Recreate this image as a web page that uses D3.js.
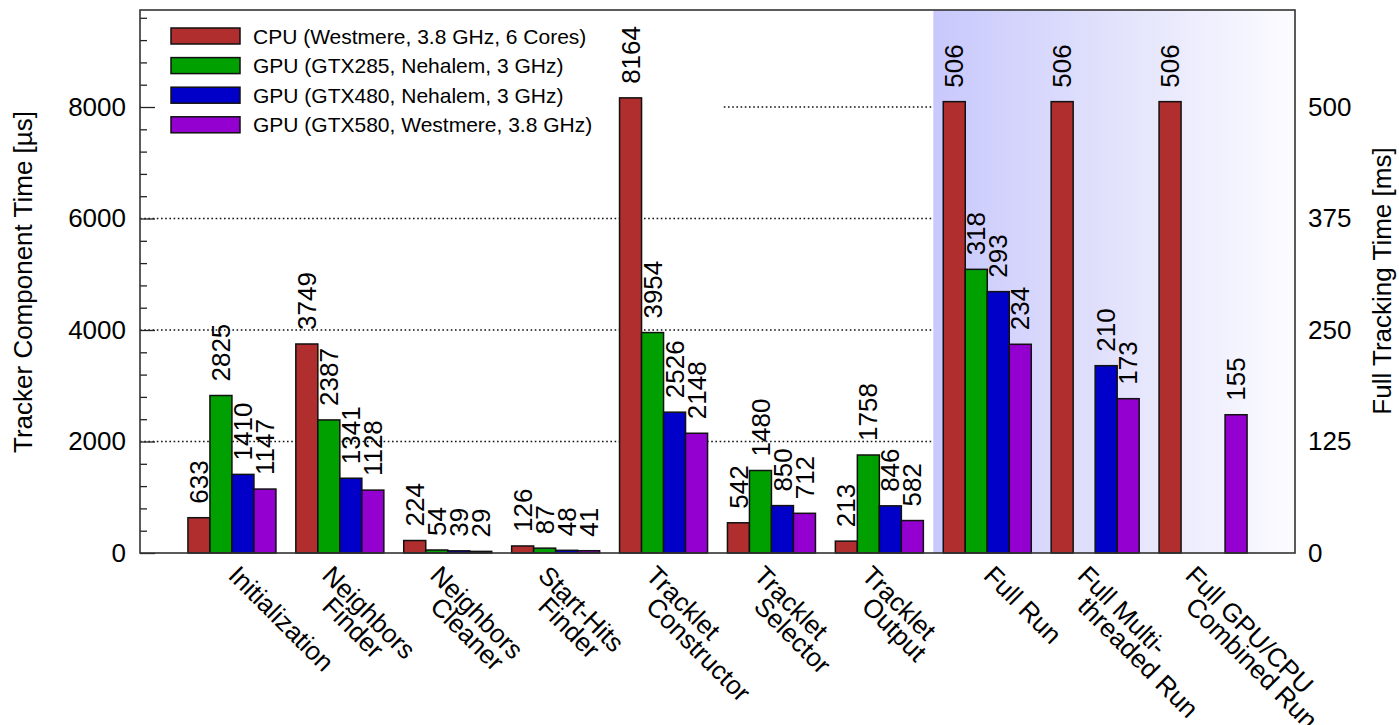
<!DOCTYPE html>
<html>
<head>
<meta charset="utf-8">
<script src="https://cdn.jsdelivr.net/npm/d3@7"></script>
<style>
  html, body { margin: 0; padding: 0; background: #fff; }
  svg { display: block; font-family: "Liberation Sans", Arial, Helvetica, sans-serif; }
</style>
</head>
<body>
<svg id="chart" width="1399" height="725"></svg>
<script>
// Category labels (one entry per line of the label)
const categoryLabels = [
  ["Initialization"],
  ["Neighbors", "Finder"],
  ["Neighbors", "Cleaner"],
  ["Start-Hits", "Finder"],
  ["Tracklet", "Constructor"],
  ["Tracklet", "Selector"],
  ["Tracklet", "Output"],
  ["Full Run"],
  ["Full Multi-", "threaded Run"],
  ["Full GPU/CPU", "Combined Run"]
];

const seriesNames = [
  "CPU (Westmere, 3.8 GHz, 6 Cores)",
  "GPU (GTX285, Nehalem, 3 GHz)",
  "GPU (GTX480, Nehalem, 3 GHz)",
  "GPU (GTX580, Westmere, 3.8 GHz)"
];

// Tracker component times [µs], first seven categories
const cpuComponent    = [633, 3749, 224, 126, 8164, 542, 213];
const gtx285Component = [2825, 2387, 54, 87, 3954, 1480, 1758];
const gtx480Component = [1410, 1341, 39, 48, 2526, 850, 846];
const gtx580Component = [1147, 1128, 29, 41, 2148, 712, 582];

// Full tracking times [ms], last three categories (null = not measured)
const cpuFull    = [506, 506, 506];
const gtx285Full = [318, null, null];
const gtx480Full = [293, 210, null];
const gtx580Full = [234, 173, 155];

// Axis ticks
const leftTicks  = [0, 2000, 4000, 6000, 8000];
const rightTicks = [0, 125, 250, 375, 500];
const gridValues = [2000, 4000, 6000, 8000];

const seriesColors = ["#b02e2e", "#00a000", "#0000c8", "#9400d0"];

const componentSeries = [cpuComponent, gtx285Component, gtx480Component, gtx580Component];
const fullSeries = [cpuFull, gtx285Full, gtx480Full, gtx580Full];
const nComponent = cpuComponent.length;

const svg = d3.select("#chart");
const plotL = 140, plotR = 1295, plotT = 10, plotB = 553;
const fontFam = '"Liberation Sans", Arial, Helvetica, sans-serif';

const yMax = 9740;
const y = d3.scaleLinear().domain([0, yMax]).range([plotB, plotT]);
// 1 ms on the right axis corresponds to 16 µs on the left axis
const y2 = d3.scaleLinear().domain([0, yMax / 16]).range([plotB, plotT]);

const x = d3.scaleBand().domain(d3.range(categoryLabels.length))
  .range([plotL, plotR]).paddingInner(0).paddingOuter(0.352);
const bw = x.bandwidth();
const groupW = bw * 0.8156;
const xs = d3.scaleBand().domain(d3.range(4))
  .range([(bw - groupW) / 2, (bw + groupW) / 2]);

// Flatten into drawable records
const bars = [];
categoryLabels.forEach((_, i) => {
  for (let s = 0; s < 4; s++) {
    const isFull = i >= nComponent;
    const v = isFull ? fullSeries[s][i - nComponent] : componentSeries[s][i];
    if (v == null) continue;
    bars.push({ i, s, v, scale: isFull ? y2 : y });
  }
});

// Gradient for the full-run panel
const defs = svg.append("defs");
const grad = defs.append("linearGradient").attr("id", "fullShade")
  .attr("x1", "0%").attr("x2", "100%").attr("y1", "0%").attr("y2", "0%");
grad.append("stop").attr("offset", "0%").attr("stop-color", "#c8c8fd");
grad.append("stop").attr("offset", "50%").attr("stop-color", "#e2e2fc");
grad.append("stop").attr("offset", "100%").attr("stop-color", "#fcfcff");

const shadeX = x(nComponent);

// Dotted grid lines
svg.append("g").selectAll("line").data(gridValues).join("line")
  .attr("x1", plotL).attr("x2", shadeX)
  .attr("y1", d => y(d)).attr("y2", d => y(d))
  .attr("stroke", "#111").attr("stroke-width", 1.3)
  .attr("stroke-dasharray", "1.6,2.6");

// Shaded panel for full tracking times
svg.append("rect").attr("x", shadeX).attr("y", plotT)
  .attr("width", plotR - shadeX).attr("height", plotB - plotT)
  .attr("fill", "url(#fullShade)");

// Legend background
svg.append("rect").attr("x", plotL + 1).attr("y", plotT + 1)
  .attr("width", 582).attr("height", 140).attr("fill", "#fff");

// Bars
svg.append("g").selectAll("rect").data(bars).join("rect")
  .attr("x", d => x(d.i) + xs(d.s))
  .attr("width", xs.bandwidth())
  .attr("y", d => d.scale(d.v))
  .attr("height", d => plotB - d.scale(d.v))
  .attr("fill", d => seriesColors[d.s])
  .attr("stroke", "#111").attr("stroke-width", 1.5);

// Value labels above bars
svg.append("g").selectAll("text").data(bars).join("text")
  .attr("transform", d => `translate(${x(d.i) + xs(d.s) + xs.bandwidth() / 2},${d.scale(d.v) - 14}) rotate(-90)`)
  .attr("dy", "0.35em")
  .attr("text-anchor", "start")
  .attr("font-size", 26).attr("font-family", fontFam).attr("fill", "#000")
  .text(d => d.v);

// Left axis: labels
const axL = svg.append("g").attr("transform", `translate(${plotL},0)`)
  .call(d3.axisLeft(y).tickValues(leftTicks).tickFormat(d3.format("d"))
    .tickSize(0).tickPadding(14));
axL.select(".domain").remove();
axL.selectAll("text").attr("font-size", 26).attr("font-family", fontFam).attr("fill", "#000");

// Left axis: inward major and minor ticks
const majTicks = svg.append("g").attr("transform", `translate(${plotL},0)`)
  .call(d3.axisRight(y).tickValues(leftTicks).tickSize(15).tickFormat(""));
majTicks.select(".domain").remove();
majTicks.selectAll("line").attr("stroke", "#222").attr("stroke-width", 1.3);
const minorVals = d3.range(0, yMax, 400).filter(v => v % 2000 !== 0);
const minTicks = svg.append("g").attr("transform", `translate(${plotL},0)`)
  .call(d3.axisRight(y).tickValues(minorVals).tickSize(7).tickFormat(""));
minTicks.select(".domain").remove();
minTicks.selectAll("line").attr("stroke", "#222").attr("stroke-width", 1.3);

// Right axis labels
const axR = svg.append("g").attr("transform", `translate(${plotR},0)`)
  .call(d3.axisRight(y2).tickValues(rightTicks).tickFormat(d3.format("d"))
    .tickSize(0).tickPadding(13));
axR.select(".domain").remove();
axR.selectAll("text").attr("font-size", 26).attr("font-family", fontFam).attr("fill", "#000");

// Frame
svg.append("rect").attr("x", plotL).attr("y", plotT)
  .attr("width", plotR - plotL).attr("height", plotB - plotT)
  .attr("fill", "none").attr("stroke", "#333").attr("stroke-width", 1.6);

// Category labels, rotated
const catG = svg.append("g");
categoryLabels.forEach((lines, i) => {
  const bx = x(i) + bw / 2 + (lines.length > 1 ? -19 : -5);
  lines.forEach((ln, j) => {
    catG.append("text")
      .attr("transform", `translate(${bx},${577 + j * 31}) rotate(45)`)
      .attr("text-anchor", "start")
      .attr("font-size", 26).attr("font-family", fontFam).attr("fill", "#000")
      .text(ln);
  });
});

// Axis titles
svg.append("text")
  .attr("transform", `translate(32,282) rotate(-90)`)
  .attr("text-anchor", "middle")
  .attr("font-size", 26).attr("font-family", fontFam).attr("fill", "#000")
  .text("Tracker Component Time [µs]");
svg.append("text")
  .attr("transform", `translate(1391,281) rotate(-90)`)
  .attr("text-anchor", "middle")
  .attr("font-size", 26).attr("font-family", fontFam).attr("fill", "#000")
  .text("Full Tracking Time [ms]");

// Legend
const leg = svg.append("g").selectAll("g").data(seriesNames).join("g")
  .attr("transform", (d, k) => `translate(0,${36 + k * 29.6})`);
leg.append("rect").attr("x", 171).attr("y", -8).attr("width", 69).attr("height", 16)
  .attr("fill", (d, k) => seriesColors[k]).attr("stroke", "#111").attr("stroke-width", 1.5);
leg.append("text").attr("x", 253).attr("dy", "0.36em")
  .attr("font-size", 21).attr("font-family", fontFam).attr("fill", "#000")
  .text(d => d);
</script>
</body>
</html>
